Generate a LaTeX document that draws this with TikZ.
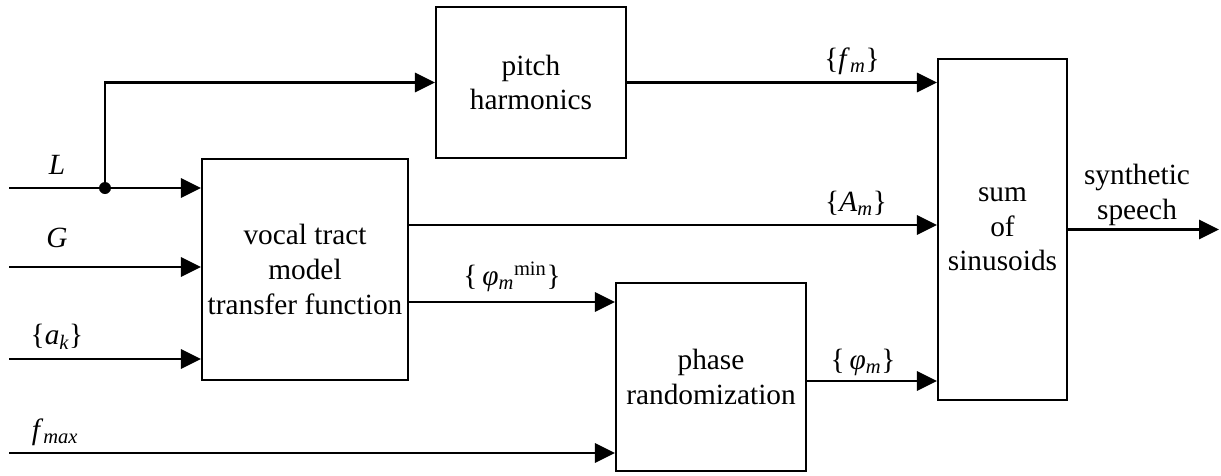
\documentclass[tikz,border=0pt]{standalone}
\usepackage{fontspec}
\setmainfont{Liberation Serif}
\usetikzlibrary{arrows.meta}
\newcommand{\lowtxt}[1]{\textsubscript{\itshape #1}}
\begin{document}
\begin{tikzpicture}[x=0.75pt,y=-0.75pt,
  font=\fontsize{22}{26}\selectfont,
  line width=1.6pt,
  blk/.style={draw, line width=1.6pt, inner sep=0pt, align=center},
  arr/.style={-{Triangle[length=15pt,width=14.5pt]}, line width=1.6pt},
  lbl/.style={inner sep=0pt}]
\useasboundingbox (0,0) rectangle (1221,475);

% processing blocks
\node[blk, minimum width=190*0.75pt, minimum height=151*0.75pt] (pitch) at (531,82.5) {pitch\\harmonics};
\node[blk, minimum width=206*0.75pt, minimum height=221*0.75pt] (vocal) at (305,269.5) {vocal tract\\model\\transfer function};
\node[blk, minimum width=190*0.75pt, minimum height=188*0.75pt] (phase) at (711,377) {phase\\randomization};
\node[blk, minimum width=129*0.75pt, minimum height=341*0.75pt] (sum) at (1002.5,229.5) {sum\\of\\sinusoids};

% free ends and signal levels
\coordinate (inL) at (9,188);
\coordinate (inG) at (9,267);
\coordinate (inA) at (9,359);
\coordinate (inF) at (9,453);
\coordinate (branch) at (105,188);
\coordinate (yAm) at (0,225);
\coordinate (yPmin) at (0,302);
\coordinate (yPm) at (0,381);
\coordinate (outend) at (1219,229.5);

% inputs
\draw[arr] (inL) -- (vocal.west |- inL);
\draw[arr] (inG) -- (vocal.west |- inG);
\draw[arr] (inA) -- (vocal.west |- inA);
\draw[arr] (inF) -- (phase.west |- inF);
\draw[arr] (branch) -- (branch |- pitch.west) -- (pitch.west);
\fill (branch) circle (6);

% internal signals
\draw[arr] (pitch.east) -- (sum.west |- pitch.east);
\draw[arr] (vocal.east |- yAm) -- (sum.west |- yAm);
\draw[arr] (vocal.east |- yPmin) -- (phase.west |- yPmin);
\draw[arr] (phase.east |- yPm) -- (sum.west |- yPm);
\draw[arr] (sum.east) -- (outend);

% labels
\node[lbl] (lL) at (57,165) {\textit{L}};
\node[lbl] (lG) at (57,238) {\textit{G}};
\node[lbl] (lak) at (57,337) {\{\textit{a}\lowtxt{k}\}};
\node[lbl] (lfmax) at (55,432) {\textit{f}\lowtxt{max}};
\node[lbl] (lfm) at (852,61) {\{\textit{f}\lowtxt{m}\}};
\node[lbl] (lAm) at (856,203) {\{\textit{A}\lowtxt{m}\}};
\node[lbl] (lphim) at (863,362) {\{\,\textit{φ}\lowtxt{m}\}};
\node[lbl] (lphimin) at (512,277) {\{\,\textit{φ}\lowtxt{m}\textsuperscript{min}\}};
\node[lbl, align=center] (lout) at (1137,195) {synthetic\\speech};
\end{tikzpicture}
\end{document}
